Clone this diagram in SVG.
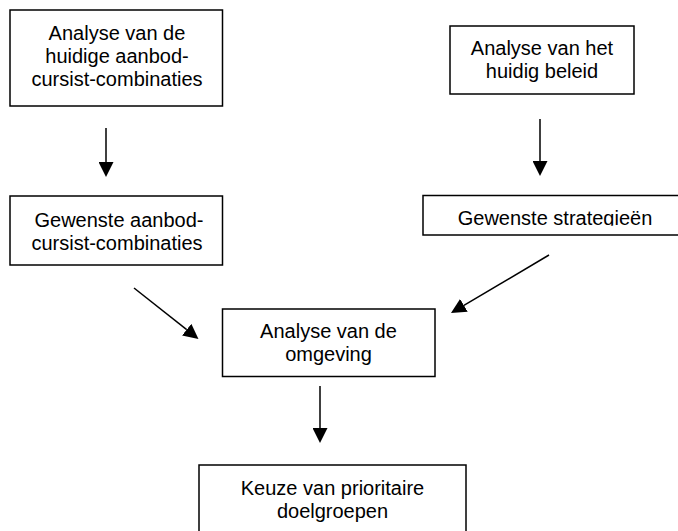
<svg xmlns="http://www.w3.org/2000/svg" width="678" height="531" viewBox="0 0 678 531">
<style>
.box{fill:#fff;stroke:#000;stroke-width:1.5}
.t{font-family:"Liberation Sans",Arial,sans-serif;font-size:20px;fill:#000;text-anchor:middle}
.c{stroke:#000;stroke-width:1.5;fill:none;marker-end:url(#ah)}
</style>
<defs>
<marker id="ah" viewBox="0 0 15 15" refX="0" refY="7.5" markerWidth="15" markerHeight="15" markerUnits="userSpaceOnUse" orient="auto">
<path d="M0,0 L15,7.5 L0,15 z" fill="#000"/>
</marker>
<clipPath id="clip4"><rect x="420" y="190" width="270" height="35.8"/></clipPath>
</defs>
<g id="n1">
<rect class="box" x="10" y="10" width="212.5" height="96"/>
<text class="t" x="117" y="39.5">Analyse van de</text>
<text class="t" x="117" y="62.5">huidige aanbod-</text>
<text class="t" x="117" y="85.5">cursist-combinaties</text>
</g>
<g id="n2">
<rect class="box" x="10" y="196" width="212.5" height="69"/>
<text class="t" x="119" y="226.5">Gewenste aanbod-</text>
<text class="t" x="117" y="249.5">cursist-combinaties</text>
</g>
<g id="n3">
<rect class="box" x="450" y="26" width="184" height="68"/>
<text class="t" x="542" y="54.5">Analyse van het</text>
<text class="t" x="542" y="78">huidig beleid</text>
</g>
<g id="n4">
<rect class="box" x="423" y="195.5" width="270" height="39.5"/>
<text class="t" x="555" y="225" clip-path="url(#clip4)">Gewenste strategieën</text>
</g>
<g id="n5">
<rect class="box" x="222.5" y="309" width="212.5" height="67.5"/>
<text class="t" x="328.5" y="337.5">Analyse van de</text>
<text class="t" x="328.5" y="361">omgeving</text>
</g>
<g id="n6">
<rect class="box" x="199" y="465" width="267" height="80"/>
<text class="t" x="332.5" y="495">Keuze van prioritaire</text>
<text class="t" x="332.5" y="517.5">doelgroepen</text>
</g>
<g id="connectors">
<line class="c" x1="106" y1="128" x2="106" y2="162"/>
<line class="c" x1="540" y1="119" x2="540" y2="161"/>
<line class="c" x1="134" y1="288" x2="186.7" y2="329.7"/>
<line class="c" x1="549" y1="255" x2="463.9" y2="305.4"/>
<line class="c" x1="320" y1="386" x2="320" y2="428"/>
</g>
</svg>
